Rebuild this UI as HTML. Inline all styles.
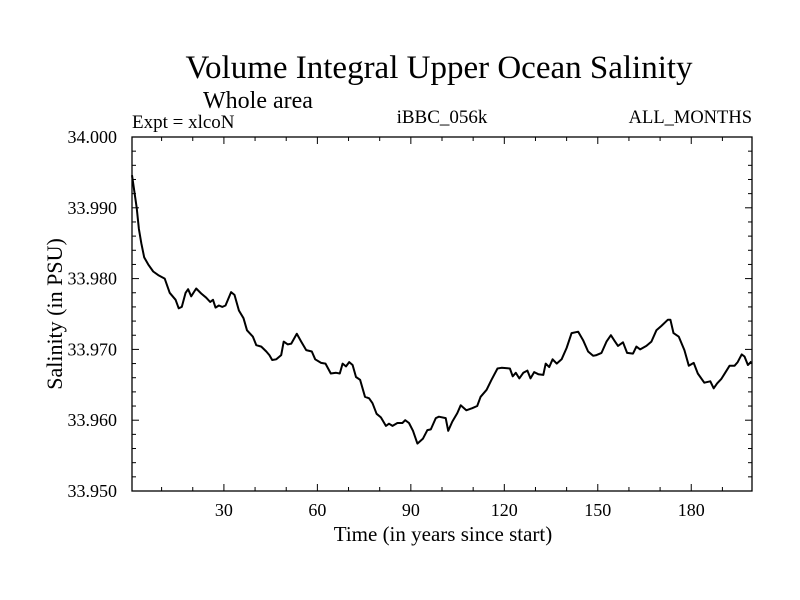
<!DOCTYPE html>
<html><head><meta charset="utf-8"><style>
html,body{margin:0;padding:0;background:#fff;}
svg{display:block;font-family:"Liberation Serif",serif;}
</style></head><body>
<svg id="chart" width="800" height="600" viewBox="0 0 800 600">
<rect width="800" height="600" fill="#fff"/>
<text x="439" y="78" font-size="33" text-anchor="middle">Volume Integral Upper Ocean Salinity</text>
<text x="203" y="108" font-size="24">Whole area</text>
<text x="132" y="128" font-size="19">Expt = xlcoN</text>
<text x="442" y="123" font-size="19" text-anchor="middle">iBBC_056k</text>
<text x="752" y="123" font-size="18.5" text-anchor="end">ALL_MONTHS</text>
<text x="443" y="541" font-size="21" text-anchor="middle">Time (in years since start)</text>
<text transform="translate(62,314) rotate(-90)" font-size="22" text-anchor="middle">Salinity (in PSU)</text>
<g id="axes"></g>
<g id="series"></g>
<rect x="132" y="137" width="620" height="354" fill="none" stroke="#000" stroke-width="1.3"/>
</svg>
<script>
const years = [0.5,2,2.7,3.5,4.4,5.7,7.3,8.9,11,12.6,14.5,15.5,16.5,17.7,18.5,19.5,21.1,22.7,24.3,25.6,26.5,27.3,28.4,29.5,30.5,32.3,33.4,34.8,36.3,37.4,39.3,40.4,42,43.6,44.6,45.5,46.8,48.4,49.2,50.5,51.6,53.4,54.8,56.4,58.2,59.3,61.2,62.6,64.3,66,67.2,68.1,69.2,70.2,71.3,72.4,73.7,75.3,76.6,77.7,79,80.4,82,83,84.1,85.7,87.3,88.2,89.4,90.7,92.1,93.9,95.3,96.4,98,99,101.2,102,103.3,104.9,106,107.8,109.7,111.3,112.4,114.3,115.9,117.8,119.1,121.8,122.7,123.7,124.8,126.1,127.4,128.4,129.6,130.9,132.5,133.3,134.4,135.5,136.8,138.4,140,141.6,143.7,145.3,146.9,148.5,149.6,151.2,152.8,154.2,155.4,156.5,158.1,159.4,161.3,162.4,163.6,165.6,167.2,168.8,170.4,172.5,173.3,174.3,176,177.8,179.2,180.8,182.1,184.2,186.1,187.2,188.3,189.6,190.6,192.3,193.9,194.9,196.2,197.1,198.2,199.3];
const salinity = [33.9946,33.990,33.987,33.985,33.983,33.982,33.981,33.9805,33.980,33.978,33.977,33.9758,33.976,33.978,33.9785,33.9775,33.9786,33.9779,33.9773,33.9767,33.977,33.9759,33.9762,33.976,33.9762,33.9781,33.9777,33.9755,33.9744,33.9727,33.9718,33.9706,33.9704,33.9697,33.9692,33.9685,33.9686,33.9692,33.9711,33.9707,33.9708,33.9722,33.9711,33.9699,33.9697,33.9686,33.9681,33.968,33.9666,33.9667,33.9666,33.968,33.9676,33.9682,33.9678,33.9661,33.9657,33.9633,33.9631,33.9624,33.9609,33.9604,33.9592,33.9595,33.9592,33.9596,33.9596,33.96,33.9596,33.9585,33.9567,33.9574,33.9586,33.9587,33.9603,33.9605,33.9603,33.9585,33.9598,33.961,33.9621,33.9614,33.9617,33.962,33.9633,33.9643,33.9657,33.9673,33.9674,33.9673,33.9662,33.9667,33.9659,33.9667,33.967,33.9659,33.9668,33.9665,33.9664,33.968,33.9675,33.9686,33.968,33.9686,33.9702,33.9723,33.9725,33.9713,33.9697,33.9691,33.9692,33.9695,33.9711,33.972,33.9712,33.9705,33.971,33.9695,33.9694,33.9704,33.970,33.9705,33.9711,33.9727,33.9733,33.9742,33.9742,33.9723,33.9718,33.9699,33.9677,33.9681,33.9666,33.9653,33.9655,33.9645,33.9652,33.9658,33.9665,33.9677,33.9677,33.9682,33.9693,33.969,33.9678,33.9683];
const xTickValues = [30,60,90,120,150,180];
const xTickLabels = ["30","60","90","120","150","180"];
const yTickValues = [33.95,33.96,33.97,33.98,33.99,34.0];
const yTickLabels = ["33.950","33.960","33.970","33.980","33.990","34.000"];

const X0=132,X1=752,Y0=137,Y1=491, XMIN=0.5, XMAX=199.5, YMIN=33.95, YMAX=34.0;
function sx(v){return X0+(v-XMIN)/(XMAX-XMIN)*(X1-X0);}
function sy(v){return Y1-(v-YMIN)/(YMAX-YMIN)*(Y1-Y0);}
const NS="http://www.w3.org/2000/svg";
const axes=document.getElementById('axes');
function line(x1,y1,x2,y2,name){
  const l=document.createElementNS(NS,'line');
  l.setAttribute('x1',x1);l.setAttribute('y1',y1);l.setAttribute('x2',x2);l.setAttribute('y2',y2);
  l.setAttribute('stroke','#000');l.setAttribute('stroke-width','1');
  
  
  axes.appendChild(l);
}
function text(x,y,s,anchor,name){
  const t=document.createElementNS(NS,'text');
  t.setAttribute('x',x);t.setAttribute('y',y);t.setAttribute('font-size','18');t.setAttribute('text-anchor',anchor);
  t.textContent=s;
  
  
  axes.appendChild(t);
}
for(let v=10; v<=190; v+=10){
  const maj = v%30===0, len = maj?7:4, x=sx(v);
  line(x,Y1,x,Y1-len,'x-tick');
  line(x,Y0,x,Y0+len,'x-tick-top');
}
xTickValues.forEach((v,i)=>text(sx(v),Y1+25,xTickLabels[i],'middle','x-tick-label'));
for(let k=0;k<=25;k++){
  const v=YMIN+k*0.002, maj=k%5===0, len=maj?7:4, y=sy(v);
  line(X0,y,X0+len,y,'y-tick');
  line(X1,y,X1-len,y,'y-tick-right');
}
yTickValues.forEach((v,i)=>text(117,sy(v)+6,yTickLabels[i],'end','y-tick-label'));
const p=document.createElementNS(NS,'path');
p.setAttribute('d',years.map((y,i)=>(i?'L':'M')+sx(y).toFixed(1)+' '+sy(salinity[i]).toFixed(1)).join(' '));
p.setAttribute('fill','none');p.setAttribute('stroke','#000');p.setAttribute('stroke-width','2');p.setAttribute('stroke-linejoin','round');


document.getElementById('series').appendChild(p);
</script>
</body></html>
